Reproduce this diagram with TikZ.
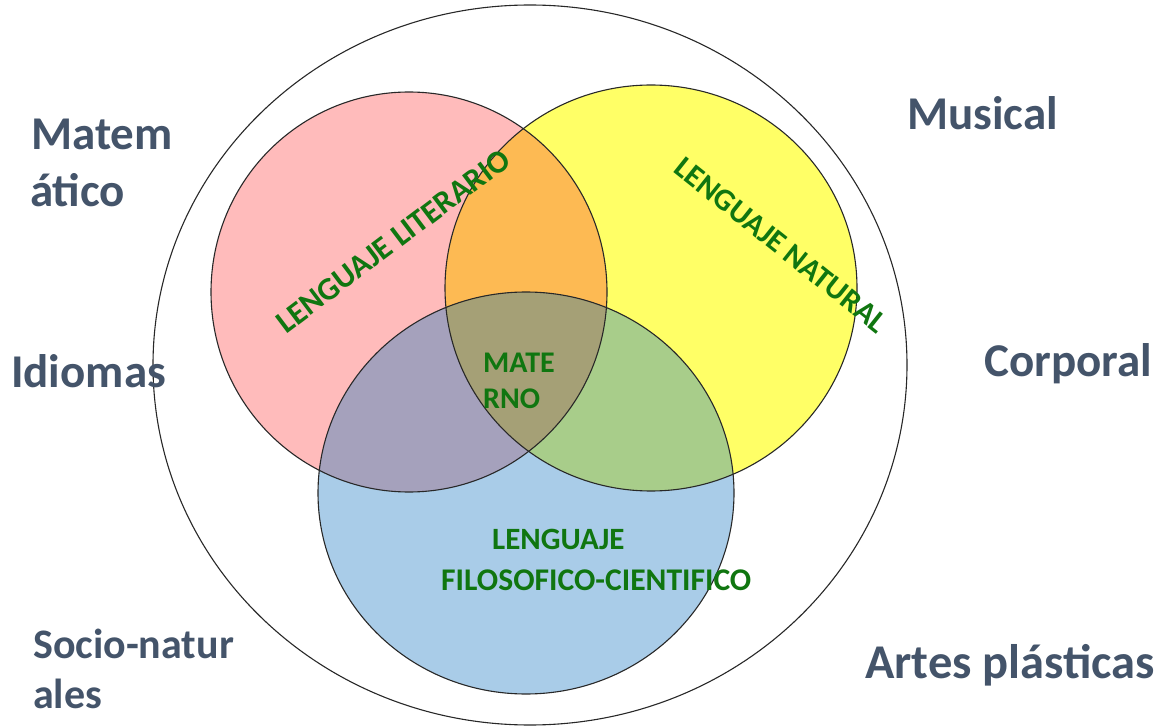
\documentclass[tikz,border=0pt]{standalone}
\usepackage{fontspec}
\setmainfont{Carlito}
\definecolor{pinkc}{RGB}{255,187,187}
\definecolor{yellowc}{RGB}{255,255,102}
\definecolor{bluec}{RGB}{169,204,232}
\definecolor{orangec}{RGB}{253,186,83}
\definecolor{purplec}{RGB}{165,161,188}
\definecolor{greenc}{RGB}{168,205,138}
\definecolor{olivec}{RGB}{165,160,118}
\definecolor{labelc}{RGB}{68,84,106}
\definecolor{textg}{RGB}{16,118,16}
\definecolor{linec}{RGB}{40,40,40}
\begin{document}
\begin{tikzpicture}[x=1pt,y=-1pt,
  outer/.style={font=\fontsize{47}{56}\selectfont\bfseries, text=labelc, anchor=base west, inner sep=0pt},
  inlab/.style={font=\fontsize{31}{37}\selectfont\bfseries, text=textg, inner sep=0pt},
  ring/.style={draw=linec, line width=1.1pt}]
\useasboundingbox (0,0) rectangle (1165,727);
\def\redc{(409,292) ellipse[x radius=198, y radius=200]}
\def\yelc{(651,288) ellipse[x radius=206, y radius=203]}
\def\bluc{(526,493) ellipse[x radius=208, y radius=201]}
% outer circle
\draw[ring] (530,365) ellipse[x radius=377, y radius=360];
% base fills
\fill[pinkc] \redc;
\fill[yellowc] \yelc;
\fill[bluec] \bluc;
\begin{scope}\clip \redc; \fill[orangec] \yelc; \end{scope}
\begin{scope}\clip \redc; \fill[purplec] \bluc; \end{scope}
\begin{scope}\clip \yelc; \fill[greenc] \bluc; \end{scope}
\begin{scope}\clip \redc; \clip \yelc; \fill[olivec] \bluc; \end{scope}
\draw[ring] \redc;
\draw[ring] \yelc;
\draw[ring] \bluc;
% outer labels
\node[outer] (mat1) at (31,150) {Matem};
\node[outer] (mat2) at (30,207) {ático};
\node[outer] (idi) at (11,388) {Idiomas};
\node[outer, font=\fontsize{42}{50}\selectfont\bfseries] (soc1) at (33,658) {Socio-natur};
\node[outer, font=\fontsize{42}{50}\selectfont\bfseries] (soc2) at (33,708) {ales};
\node[outer] (mus) at (907,130) {Musical};
\node[outer] (cor) at (984,377) {Corporal};
\node[outer, font=\fontsize{48.5}{58}\selectfont\bfseries] (art) at (865,678) {Artes plásticas};
% inner labels
\node[inlab, font=\fontsize{30}{36}\selectfont\bfseries, anchor=base west] (mate) at (483,372) {MATE};
\node[inlab, font=\fontsize{30}{36}\selectfont\bfseries, anchor=base west] (rno) at (483,408) {RNO};
\node[inlab, anchor=base west] (len) at (492,549) {LENGUAJE};
\node[inlab, font=\fontsize{31.6}{38}\selectfont\bfseries, anchor=base west] (fil) at (441,590) {FILOSOFICO-CIENTIFICO};
\node[inlab, font=\fontsize{32}{38}\selectfont\bfseries, rotate=37] (lit) at (393,241) {LENGUAJE LITERARIO};
\node[inlab, rotate=-38.5] (nat) at (781,245) {LENGUAJE NATURAL};
\end{tikzpicture}
\end{document}
